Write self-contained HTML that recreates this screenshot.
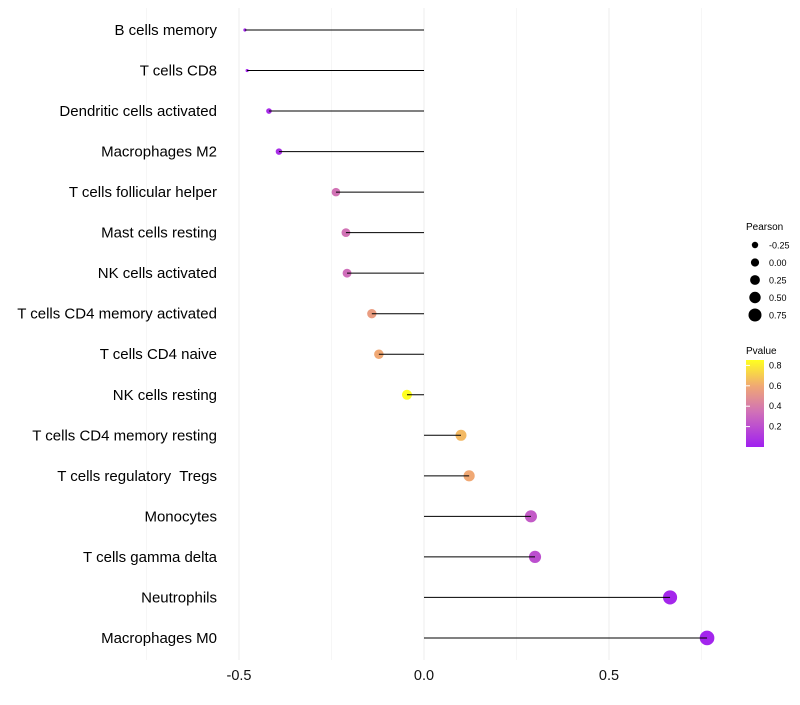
<!DOCTYPE html>
<html><head><meta charset="utf-8"><style>
body{margin:0;background:#fff;font-family:"Liberation Sans",sans-serif;}
svg text{font-family:"Liberation Sans",sans-serif;white-space:pre;}
</style></head><body>
<svg id="chart" width="800" height="700">
<defs><linearGradient id="pg" x1="0" y1="1" x2="0" y2="0">
<stop offset="0" stop-color="#a020f0"/><stop offset="0.4" stop-color="#d070b8"/><stop offset="0.7" stop-color="#f0a874"/><stop offset="1" stop-color="#ffff20"/>
</linearGradient></defs>
<g id="grid"></g><g id="marks"></g><g id="stems"></g><g id="labels"></g>
<g>
<text x="746" y="230" font-size="10">Pearson</text>
<g id="sizeleg"></g>
</g>
<g>
<text x="746" y="354" font-size="10">Pvalue</text>
<rect x="746" y="360" width="18" height="87" fill="url(#pg)"/>
<g id="colleg"></g>
</g>
</svg>
<script>
const categories=["B cells memory","T cells CD8","Dendritic cells activated","Macrophages M2","T cells follicular helper","Mast cells resting","NK cells activated","T cells CD4 memory activated","T cells CD4 naive","NK cells resting","T cells CD4 memory resting","T cells regulatory  Tregs","Monocytes","T cells gamma delta","Neutrophils","Macrophages M0"];
const pearson=[-0.484,-0.478,-0.419,-0.392,-0.238,-0.211,-0.208,-0.141,-0.122,-0.046,0.100,0.122,0.289,0.300,0.665,0.765];
const pvalue=[0.02,0.02,0.05,0.06,0.35,0.35,0.33,0.55,0.6,0.85,0.65,0.6,0.25,0.2,0.03,0.02];
const xTicks=[-0.5,0,0.5];
const xTickLabels=["-0.5","0.0","0.5"];
const sizeLegend=[-0.25,0,0.25,0.5,0.75];
const colTicks=[0.2,0.4,0.6,0.8];
const NS="http://www.w3.org/2000/svg";
const x=v=>424+v*370;
const y=i=>30+i*40.53;
const r=p=>Math.sqrt(Math.max(2.5,26.75+35*p-60*Math.max(0,-0.35-p)));
const cy=p=>447-p*102;
function lerp(a,b,t){return a.map((c,i)=>Math.round(c+(b[i]-c)*t));}
const stops=[[0,[160,32,240]],[0.34,[208,112,184]],[0.6,[240,168,116]],[0.85,[255,255,32]]];
function col(p){for(let i=0;i<stops.length-1;i++){if(p<=stops[i+1][0]){const t=Math.max(0,(p-stops[i][0])/(stops[i+1][0]-stops[i][0]));return"rgb("+lerp(stops[i][1],stops[i+1][1],t).join(",")+")";}}return"rgb(255,255,32)";}
function mk(t,a,p){const e=document.createElementNS(NS,t);for(const k in a)e.setAttribute(k,a[k]);(p||document.getElementById("chart")).appendChild(e);return e;}
const G=document.getElementById("grid"),M=document.getElementById("marks"),S=document.getElementById("stems"),L=document.getElementById("labels");
[-0.75,-0.25,0.25,0.75].forEach(v=>{const e=mk("line",{x1:x(v),x2:x(v),y1:8,y2:660,stroke:"#f6f6f6","stroke-width":1},G);

});
xTicks.forEach((v,i)=>{const e=mk("line",{x1:x(v),x2:x(v),y1:8,y2:660,stroke:"#ededed","stroke-width":1},G);


const t=mk("text",{x:x(v),y:680,"font-size":14.5,"text-anchor":"middle",fill:"#111"},L);t.textContent=xTickLabels[i];

});
categories.forEach((c,i)=>{
const d=mk("circle",{cx:x(pearson[i]),cy:y(i),r:r(pearson[i]),fill:col(pvalue[i])},M);


const l=mk("line",{x1:x(0),x2:x(pearson[i]),y1:y(i),y2:y(i),stroke:"#000","stroke-width":1},S);


const t=mk("text",{x:217,y:y(i)+5,"font-size":15,"text-anchor":"end",fill:"#000"},L);t.textContent=c;

});
const SL=document.getElementById("sizeleg");
sizeLegend.forEach((v,i)=>{const yy=245+i*17.5;
const d=mk("circle",{cx:755,cy:yy,r:[3.2,4.1,4.9,5.7,6.5][i],fill:"#000"},SL);


const t=mk("text",{x:769,y:yy+3.5,"font-size":9},SL);t.textContent=v.toFixed(2);

});
const CL=document.getElementById("colleg");
colTicks.forEach(v=>{const t=mk("text",{x:769,y:cy(v)+3,"font-size":9},CL);t.textContent=v.toFixed(1);


const k=mk("line",{x1:746,x2:750,y1:cy(v),y2:cy(v),stroke:"#fff"},CL);

});
</script>
</body></html>
